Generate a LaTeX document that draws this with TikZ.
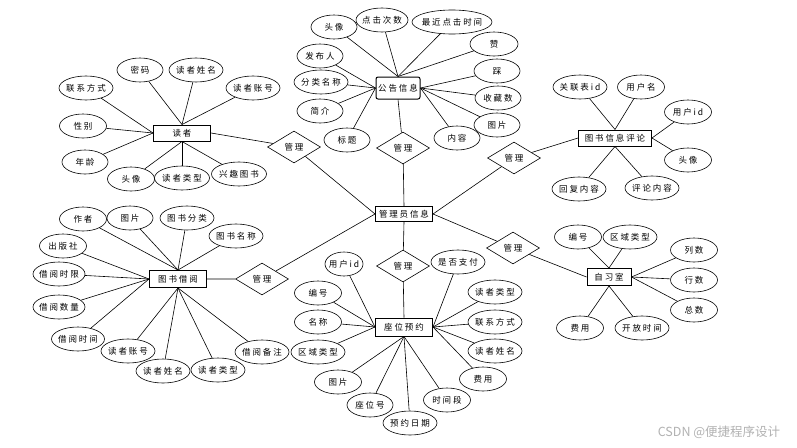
\documentclass[tikz,border=0pt]{standalone}
\usepackage{fontspec}
\usetikzlibrary{shapes.geometric}
\newfontfamily\cjk[LetterSpace=22]{Noto Sans CJK SC}
\newfontfamily\wmfont{Noto Sans CJK SC}

\begin{document}
\begin{tikzpicture}[x=1pt, y=-1pt, line width=0.6pt,
  font=\cjk\fontsize{8.5}{10}\selectfont,
  attr/.style={ellipse, draw, inner xsep=-10pt, inner ysep=0pt,
    minimum height=24, minimum width=47},
  entity/.style={draw, line width=1pt, inner sep=0pt, minimum height=16},
  rel/.style={diamond, draw, inner sep=0pt, minimum width=53, minimum height=32}]
\useasboundingbox[fill=white] (0,0) rectangle (797,447);

\node[entity, rounded corners=2pt, minimum width=44, minimum height=22] (gg) at (398,88) {公告信息};
\node[entity, minimum width=57] (dz) at (182,133) {读者};
\node[entity, minimum width=73] (pl) at (615,138) {图书信息评论};
\node[entity, minimum width=57, minimum height=15] (gly) at (404,214) {管理员信息};
\node[entity, minimum width=57, minimum height=17] (jy) at (178,279) {图书借阅};
\node[entity, minimum width=57, minimum height=18] (yy) at (404,327) {座位预约};
\node[entity, minimum width=44, minimum height=17] (zxs) at (609,277) {自习室};

\node[rel] (r-gg) at (403,148) {管理};
\node[rel] (r-dz) at (294,147) {管理};
\node[rel] (r-pl) at (514,158) {管理};
\node[rel] (r-jy) at (262,279) {管理};
\node[rel] (r-yy) at (403,266) {管理};
\node[rel] (r-zxs) at (513,248) {管理};

\draw (gg.south) -- (r-gg) -- (gly.north);
\draw (dz.east) -- (r-dz) -- (gly.west);
\draw (pl.west) -- (r-pl) -- (gly.east);
\draw (jy.east) -- (r-jy) -- (gly.west);
\draw (gly.south) -- (r-yy) -- (yy.north);
\draw (gly.east) -- (r-zxs) -- (zxs.west);

\foreach \a/\x/\y/\w/\t [count=\i] in {north/334/27/46/头像,
  north/382/20/52/点击次数, north/452/22/80/最近点击时间, north/494/44/48/赞,
  east/497/71/46/踩, east/498/98/46/收藏数, east/497/125/46/图片,
  east/457/138/46/内容, west/347/140/46/标题, west/320/111/46/简介,
  west/321/82/54/分类名称, west/320/56/46/发布人} {
  \node[attr, minimum width=\w] (gg-\i) at (\x,\y) {\t};
  \draw (gg.\a) -- (gg-\i);
}

\foreach \a/\x/\y/\w/\t [count=\i] in {north/140/70/46/密码,
  north/196/70/54/读者姓名, north/253/88/54/读者账号, west/86/88/54/联系方式,
  west/83/126/47/性别, west/85/162/46/年龄, south/131/179/47/头像,
  south/182/178/55/读者类型, south/239/174/55/兴趣图书} {
  \node[attr, minimum width=\w] (dz-\i) at (\x,\y) {\t};
  \draw (dz.\a) -- (dz-\i);
}

\foreach \a/\x/\y/\w/\t [count=\i] in {north/580/87/54/关联表id,
  north/641/87/47/用户名, east/688/112/47/用户id, east/688/160/47/头像,
  south/579/189/54/回复内容, south/652/188/54/评论内容} {
  \node[attr, minimum width=\w] (pl-\i) at (\x,\y) {\t};
  \draw (pl.\a) -- (pl-\i);
}

\foreach \a/\x/\y/\w/\t [count=\i] in {north/83/219/47/作者,
  north/130/218/46/图片, north/187/218/54/图书分类, north/236/236/54/图书名称,
  west/63/246/47/出版社, west/59/274/52/借阅时限, west/59/307/52/借阅数量,
  west/78/339/53/借阅时间, south/128/351/54/读者账号, south/163/371/54/读者姓名,
  south/218/370/54/读者类型, south/262/352/54/借阅备注} {
  \node[attr, minimum width=\w] (jy-\i) at (\x,\y) {\t};
  \draw (jy.\a) -- (jy-\i);
}

\foreach \a/\x/\y/\w/\t [count=\i] in {west/344/264/38/用户id,
  west/318/293/47/编号, west/318/322/47/名称, west/318/352/54/区域类型,
  east/458/262/54/是否支付, east/495/292/54/读者类型, east/495/322/54/联系方式,
  east/495/351/54/读者姓名, east/483/379/47/费用, south/447/400/47/时间段,
  south/410/423/54/预约日期, south/370/405/46/座位号, south/338/382/47/图片} {
  \node[attr, minimum width=\w] (yy-\i) at (\x,\y) {\t};
  \draw (yy.\a) -- (yy-\i);
}

\foreach \a/\x/\y/\w/\t [count=\i] in {north/578/237/47/编号,
  north/630/237/54/区域类型, east/694/250/47/列数, east/694/280/47/行数,
  east/694/310/47/总数, south/580/328/47/费用, south/642/328/54/开放时间} {
  \node[attr, minimum width=\w] (zxs-\i) at (\x,\y) {\t};
  \draw (zxs.\a) -- (zxs-\i);
}

\node[font=\wmfont\fontsize{12.5}{14}\selectfont, text=black!30] (wm) at (719,432) {CSDN @便捷程序设计};
\end{tikzpicture}
\end{document}
